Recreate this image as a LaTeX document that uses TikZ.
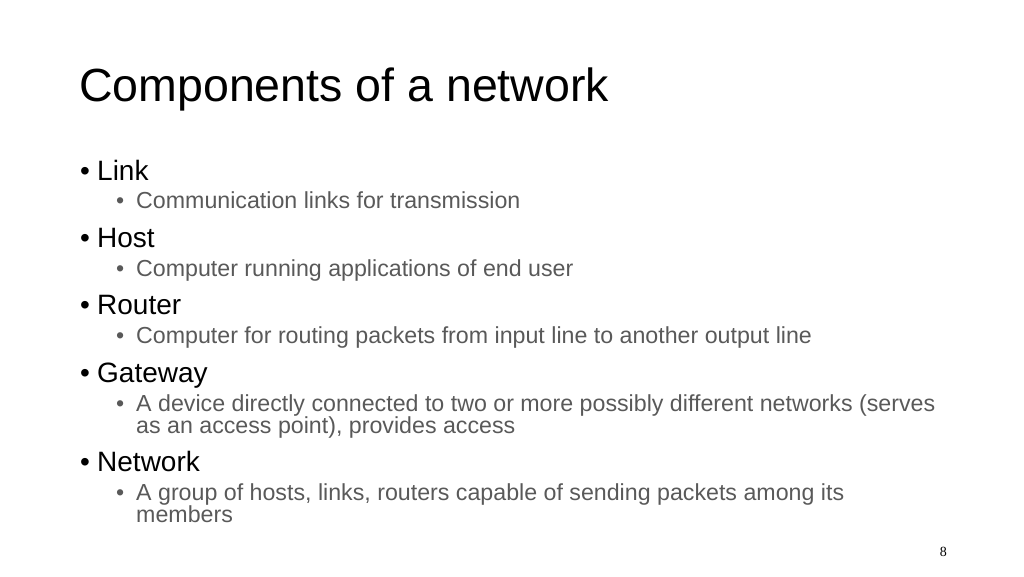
\documentclass[tikz,border=0pt]{standalone}
\usepackage{fontspec}
\setmainfont{Liberation Sans}
\newfontfamily\numfont{Liberation Serif}
\definecolor{subgray}{HTML}{595959}
\begin{document}
\begin{tikzpicture}[x=1pt,y=-1pt]
\tikzstyle{title}=[anchor=base west,inner sep=0pt,font=\fontsize{46.5}{54}\selectfont]
\tikzstyle{main}=[anchor=base west,inner sep=0pt,font=\fontsize{28}{33}\selectfont]
\tikzstyle{sub}=[anchor=base west,inner sep=0pt,text=subgray,font=\fontsize{23.2}{26}\selectfont]
\useasboundingbox (0,0) rectangle (1024,576);
\node[title] (head) at (79,101) {Components of a network};
% level one
\foreach \y/\t/\n in {180/Link/link, 247/Host/host, 314/Router/router, 382/Gateway/gate, 471/Network/net} {
  \node[main] (\n b) at (80,\y) {\textbullet};
  \node[main] (\n) at (97,\y) {\t};
}
% level two
\foreach \y/\t/\n in {208/Communication links for transmission/linkd,
  276/Computer running applications of end user/hostd,
  343/Computer for routing packets from input line to another output line/routerd,
  411/A device directly connected to two or more possibly different networks (serves/gated,
  500/{A group of hosts, links, routers capable of sending packets among its}/netd} {
  \node[sub] (\n b) at (116,\y) {\textbullet};
  \node[sub] (\n) at (136,\y) {\t};
}
\node[sub] (gated2) at (136,433) {as an access point), provides access};
\node[sub] (netd2) at (136,522) {members};
\node[anchor=base east,inner sep=0pt,font=\numfont\fontsize{14}{16}\selectfont] (page) at (947,556) {8};
\end{tikzpicture}
\end{document}
